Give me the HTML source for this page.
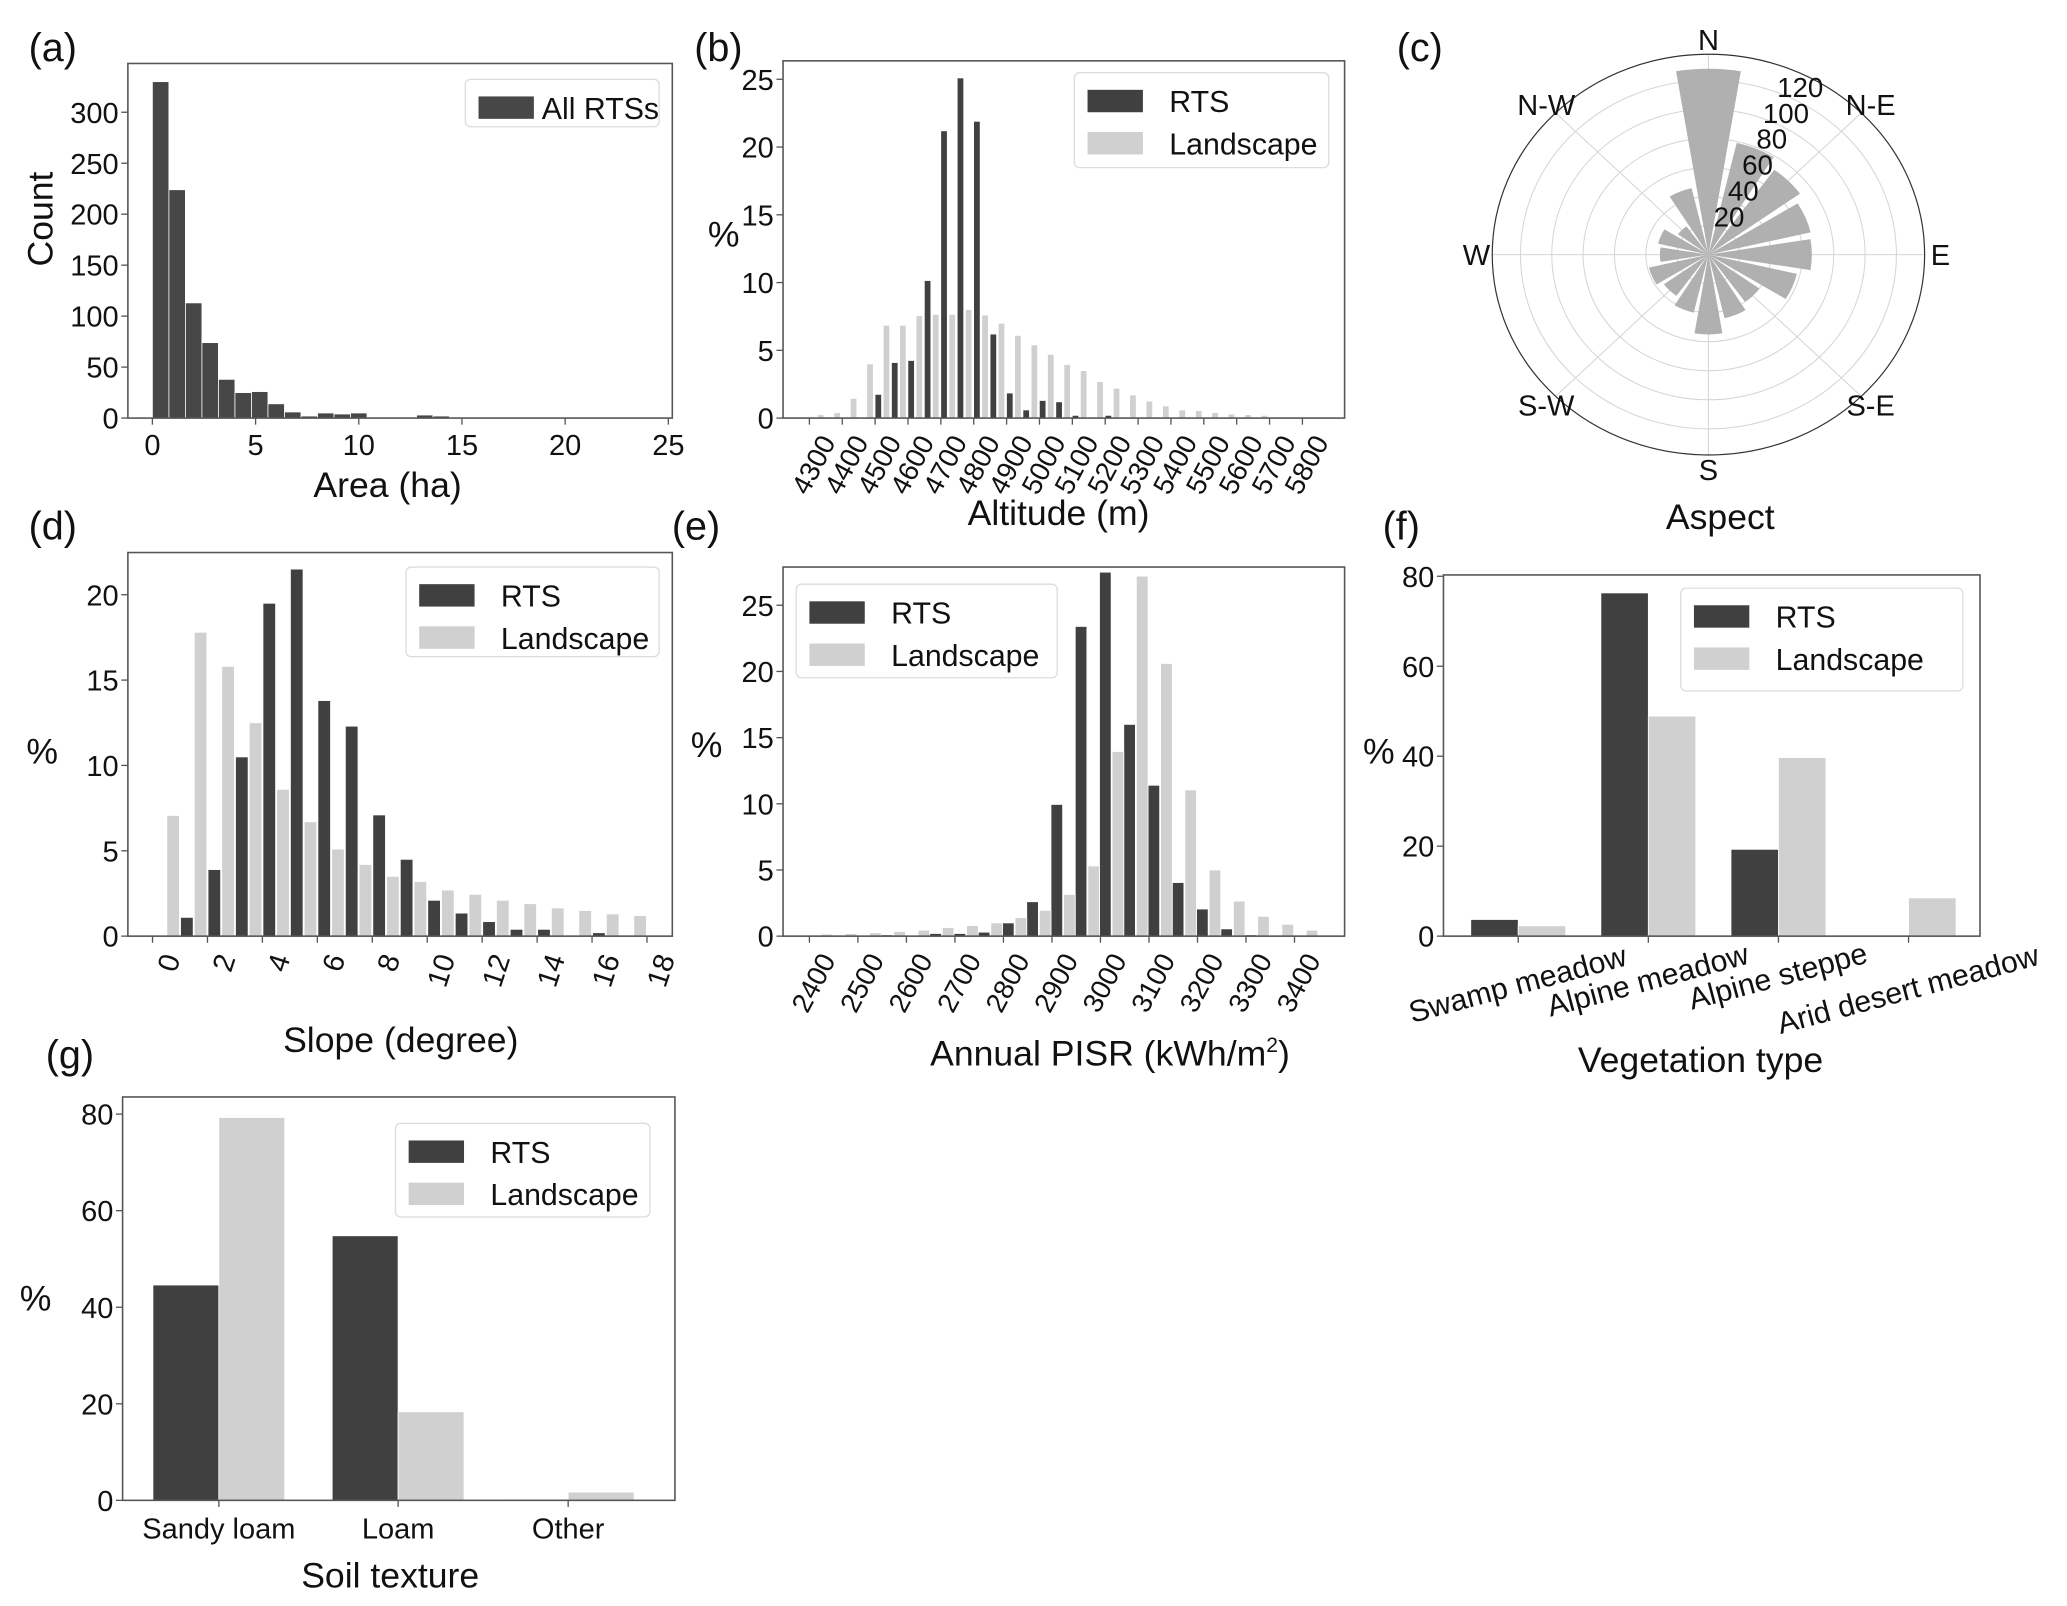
<!DOCTYPE html>
<html><head><meta charset="utf-8"><title>RTS distribution panels</title>
<style>
html,body{margin:0;padding:0;background:#fff;}
svg{display:block;font-family:"Liberation Sans",Arial,sans-serif;}
</style></head>
<body>
<svg id="fig" width="2067" height="1606" viewBox="0 0 1568 1218" xmlns="http://www.w3.org/2000/svg"></svg>
<script>
// ---------- data ----------
const areaBinWidth = 0.8;
const areaCounts = [330,224,113,74,38,25,26,14,6,2,5,4,5,0,1,1,3,2,1,1,0,0,0,0,0,0,0,0,0,1];
const areaTicks = [0,5,10,15,20,25];
const countTicks = [0,50,100,150,200,250,300];

const altStart = 4322, altStep = 50;
const altRTS = [0,0,0,0,1.75,4.1,4.25,10.15,21.2,25.1,21.9,6.2,1.85,0.6,1.3,1.2,0.2,0,0.2,0,0,0,0,0,0,0,0,0,0,0,0,0];
const altLand = [0.25,0.4,1.45,4.0,6.85,6.85,7.55,7.65,7.65,8.0,7.6,7.0,6.1,5.4,4.7,3.95,3.5,2.7,2.2,1.7,1.25,0.9,0.6,0.55,0.4,0.3,0.25,0.2,0,0,0,0];
const altTicks = [4300,4400,4500,4600,4700,4800,4900,5000,5100,5200,5300,5400,5500,5600,5700,5800];
const pctTicks25 = [0,5,10,15,20,25];

const aspectDirs = [0,22.5,45,67.5,90,112.5,135,157.5,180,202.5,225,247.5,270,292.5,315,337.5];
const aspectCounts = [128,79,72,67,66,58,40,45,55,41,35,39,31,33,24,47];
const aspectRings = [20,40,60,80,100,120];
const aspectLabels = ['N','N-E','E','S-E','S','S-W','W','N-W'];

const slopeBins = [1,2,3,4,5,6,7,8,9,10,11,12,13,14,15,16,17,18];
const slopeRTS = [1.1,3.9,10.5,19.5,21.5,13.8,12.3,7.1,4.5,2.1,1.35,0.85,0.4,0.4,0,0.2,0,0];
const slopeLand = [7.07,17.8,15.8,12.5,8.6,6.7,5.1,4.2,3.5,3.2,2.7,2.45,2.1,1.9,1.65,1.5,1.3,1.2];
const slopeTicks = [0,2,4,6,8,10,12,14,16,18];
const pctTicks20 = [0,5,10,15,20];

const pisrStart = 2423, pisrStep = 50;
const pisrRTS = [0,0,0,0.1,0,0.2,0.2,0.3,1.0,2.6,9.95,23.4,27.5,16.0,11.4,4.05,2.05,0.55,0.1,0,0];
const pisrLand = [0.15,0.2,0.25,0.35,0.45,0.65,0.8,1.0,1.4,1.95,3.15,5.3,13.95,27.2,20.6,11.05,5.0,2.65,1.5,0.9,0.45];
const pisrTicks = [2400,2500,2600,2700,2800,2900,3000,3100,3200,3300,3400];

const vegCats = ['Swamp meadow','Alpine meadow','Alpine steppe','Arid desert meadow'];
const vegRTS = [3.7,76.3,19.3,0.2];
const vegLand = [2.3,48.9,39.7,8.5];
const pctTicks80 = [0,20,40,60,80];

const soilCats = ['Sandy loam','Loam','Other'];
const soilRTS = [44.6,54.8,0.2];
const soilLand = [79.3,18.35,1.7];

// ---------- helpers ----------
const NS = 'http://www.w3.org/2000/svg';
const svg = document.getElementById('fig');
const DARK = '#404040', LIGHT = '#d0d0d0', AXC = '#555';
const TF = 22, AF = 27, LF = 23;
function el(tag, attrs, parent){
  const e = document.createElementNS(NS, tag);
  for (const k in attrs) e.setAttribute(k, attrs[k]);
  (parent || svg).appendChild(e);
  return e;
}
function lin(d0,d1,r0,r1){ return v => r0 + (v-d0)/(d1-d0)*(r1-r0); }
function group(name){
  const g = el('g', {});
  
  
  return g;
}
function txt(parent, x, y, s, size, anchor, name, extra){
  const t = el('text', Object.assign({x:x, y:y, 'font-size':size, 'text-anchor':anchor||'middle', fill:'#111'}, extra||{}), parent);
  t.textContent = s;
  
  
  return t;
}
function frame(g, x0, y0, x1, y1){
  const r = el('rect', {x:x0, y:y0, width:x1-x0, height:y1-y0, fill:'none', stroke:AXC, 'stroke-width':1.2}, g);
  
  
}
function yAxis(g, ticks, ys, x0){
  for (const v of ticks){
    const y = ys(v);
    const l = el('line', {x1:x0-5, x2:x0, y1:y, y2:y, stroke:AXC, 'stroke-width':1}, g);
    
    
    txt(g, x0-7, y+8, String(v), TF, 'end', 'y-tick-label');
  }
}
function bar(g, x, w, y0, y1, color, name){
  const r = el('rect', {x:x, y:Math.min(y0,y1), width:w, height:Math.abs(y1-y0), fill:color, stroke:'#fff', 'stroke-width':0.6}, g);
  
  
}
function legend(g, x, y, w, h, items, tx){
  const b = el('rect', {x:x, y:y, width:w, height:h, rx:4, fill:'#fff', stroke:'#ddd', 'stroke-width':1}, g);
  
  
  items.forEach((it, i) => {
    const yy = y + 10 + i*32;
    const p = el('rect', {x:x+10, y:yy+3, width:42, height:17, fill:it[1]}, g);
    
    
    txt(g, x+(tx||72), yy+20, it[0], LF, 'start', 'legend-label');
  });
}

// ---------- (a) ----------
(function(){
  const g = group('panel-a-area-histogram');
  const x0=97, x1=510, y0=48, y1=317;
  const xs = lin(0,25,115.6,507), ys = lin(0,300,317,85);
  areaCounts.forEach((v,k)=>{ if(v>0) bar(g, xs(k*areaBinWidth), xs(areaBinWidth)-xs(0), ys(0), ys(v), '#474747', 'area-bar'); });
  frame(g,x0,y0,x1,y1);
  yAxis(g, countTicks, ys, x0);
  for (const v of areaTicks){
    const x = xs(v);
    const l = el('line',{x1:x,x2:x,y1:y1,y2:y1+5,stroke:AXC},g);
    
    
    txt(g, x, y1+28, String(v), TF, 'middle', 'x-tick-label');
  }
  txt(g, 294, 377, 'Area (ha)', AF, 'middle', 'x-axis-title');
  txt(g, 40, 166, 'Count', AF, 'middle', 'y-axis-title', {transform:'rotate(-90 40 166)'});
  txt(g, 40, 46, '(a)', 30, 'middle', 'panel-label-a');
  legend(g, 353, 60, 147, 36, [['All RTSs','#474747']], 58);
})();

// ---------- (b) ----------
(function(){
  const g = group('panel-b-altitude');
  const x0=594, x1=1020, y0=46, y1=317;
  const xs = lin(4300,5800,614,988), ys = lin(0,25,317,60);
  const bw = xs(4320)-xs(4300);
  altRTS.forEach((v,k)=>{ const c = altStart + altStep*k; if(v>0) bar(g, xs(c-12.4)-bw/2, bw, ys(0), ys(v), DARK, 'rts-altitude-bar'); });
  altLand.forEach((v,k)=>{ const c = altStart + altStep*k; if(v>0) bar(g, xs(c+12.4)-bw/2, bw, ys(0), ys(v), LIGHT, 'landscape-altitude-bar'); });
  frame(g,x0,y0,x1,y1);
  yAxis(g, pctTicks25, ys, x0);
  for (const v of altTicks){
    const x = xs(v);
    const l = el('line',{x1:x,x2:x,y1:y1,y2:y1+5,stroke:AXC},g);
    
    
    txt(g, x+7, y1+11, String(v), 21, 'end', 'x-tick-label', {transform:'rotate(-62 '+(x+7)+' '+(y1+11)+')', 'dominant-baseline':'hanging'});
  }
  txt(g, 803, 398, 'Altitude (m)', AF, 'middle', 'x-axis-title');
  txt(g, 549, 187, '%', AF, 'middle', 'y-axis-title');
  txt(g, 545, 46, '(b)', 30, 'middle', 'panel-label-b');
  legend(g, 815, 55, 193, 72, [['RTS',DARK],['Landscape',LIGHT]]);
})();

// ---------- (c) ----------
(function(){
  const g = group('panel-c-aspect-rose');
  const cx=1296, cy=193, R=164, maxV=138, sy=152/164;
  const inner = el('g', {transform:'translate('+cx+' '+cy+') scale(1 '+sy+') translate('+(-cx)+' '+(-cy)+')'}, g);
  
  
  const rs = v => v/maxV*R;
  for (const v of aspectRings){
    const c = el('circle',{cx:cx,cy:cy,r:rs(v),fill:'none',stroke:'#d4d4d4','stroke-width':1,'vector-effect':'non-scaling-stroke'},inner);
    
    
  }
  for (let i=0;i<8;i++){
    const a = i*45*Math.PI/180;
    const l = el('line',{x1:cx,y1:cy,x2:cx+R*Math.sin(a),y2:cy-R*Math.cos(a),stroke:'#d4d4d4','stroke-width':1,'vector-effect':'non-scaling-stroke'},inner);
    
    
  }
  const half = 9.3*Math.PI/180;
  aspectDirs.forEach((d,i)=>{
    const a = d*Math.PI/180, r = rs(aspectCounts[i]);
    const p1x = cx + r*Math.sin(a-half), p1y = cy - r*Math.cos(a-half);
    const p2x = cx + r*Math.sin(a+half), p2y = cy - r*Math.cos(a+half);
    const p = el('path',{d:'M'+cx+' '+cy+' L'+p1x+' '+p1y+' A'+r+' '+r+' 0 0 1 '+p2x+' '+p2y+' Z',fill:'#b0b0b0'},inner);
    
    
  });
  const oc = el('circle',{cx:cx,cy:cy,r:R,fill:'none',stroke:'#333','stroke-width':1.2,'vector-effect':'non-scaling-stroke'},inner);
  
  
  const la = 27*Math.PI/180;
  for (const v of aspectRings){
    const r = rs(v+9);
    txt(g, cx + r*Math.sin(la), cy - r*Math.cos(la)*sy+7, String(v), 21, 'middle', 'radial-tick-label');
  }
  aspectLabels.forEach((s,i)=>{
    const a = i*45*Math.PI/180, r = R+ (i%2===0 ? 12 : 10);
    const x = cx + r*Math.sin(a), y = cy - r*Math.cos(a)*sy;
    txt(g, x, y+8, s, TF, 'middle', 'direction-label');
  });
  txt(g, 1305, 401, 'Aspect', AF, 'middle', 'x-axis-title');
  txt(g, 1077, 46, '(c)', 30, 'middle', 'panel-label-c');
})();

// ---------- (d) ----------
(function(){
  const g = group('panel-d-slope');
  const x0=97, x1=510, y0=419, y1=710;
  const xs = lin(0,18,115.7,490.8), ys = lin(0,20,710,451);
  const bw = xs(0.46)-xs(0);
  slopeBins.forEach((n,i)=>{
    if (slopeLand[i]>0) bar(g, xs(n-0.25)-bw/2, bw, ys(0), ys(slopeLand[i]), LIGHT, 'landscape-slope-bar');
    if (slopeRTS[i]>0) bar(g, xs(n+0.25)-bw/2, bw, ys(0), ys(slopeRTS[i]), DARK, 'rts-slope-bar');
  });
  frame(g,x0,y0,x1,y1);
  yAxis(g, pctTicks20, ys, x0);
  for (const v of slopeTicks){
    const x = xs(v);
    const l = el('line',{x1:x,x2:x,y1:y1,y2:y1+5,stroke:AXC},g);
    
    
    txt(g, x+7, y1+12, String(v), TF, 'end', 'x-tick-label', {transform:'rotate(-72 '+(x+7)+' '+(y1+12)+')', 'dominant-baseline':'hanging'});
  }
  txt(g, 304, 798, 'Slope (degree)', AF, 'middle', 'x-axis-title');
  txt(g, 32, 579, '%', AF, 'middle', 'y-axis-title');
  txt(g, 40, 409, '(d)', 30, 'middle', 'panel-label-d');
  legend(g, 308, 430, 192, 68, [['RTS',DARK],['Landscape',LIGHT]]);
})();

// ---------- (e) ----------
(function(){
  const g = group('panel-e-pisr');
  const x0=594, x1=1020, y0=430, y1=710;
  const xs = lin(2400,3400,614,982), ys = lin(0,25,710,459);
  const bw = xs(2424)-xs(2400);
  pisrRTS.forEach((v,k)=>{ const c = pisrStart + pisrStep*k; if(v>0) bar(g, xs(c-13)-bw/2, bw, ys(0), ys(v), DARK, 'rts-pisr-bar'); });
  pisrLand.forEach((v,k)=>{ const c = pisrStart + pisrStep*k; if(v>0) bar(g, xs(c+13)-bw/2, bw, ys(0), ys(v), LIGHT, 'landscape-pisr-bar'); });
  frame(g,x0,y0,x1,y1);
  yAxis(g, pctTicks25, ys, x0);
  for (const v of pisrTicks){
    const x = xs(v);
    const l = el('line',{x1:x,x2:x,y1:y1,y2:y1+5,stroke:AXC},g);
    
    
    txt(g, x+7, y1+11, String(v), 21, 'end', 'x-tick-label', {transform:'rotate(-62 '+(x+7)+' '+(y1+11)+')', 'dominant-baseline':'hanging'});
  }
  const t = txt(g, 842, 808, 'Annual PISR (kWh/m', AF, 'middle', 'x-axis-title');
  const s1 = el('tspan',{dy:-10,'font-size':16},t); s1.textContent='2';
  const s2 = el('tspan',{dy:10},t); s2.textContent=')';
  txt(g, 536, 574, '%', AF, 'middle', 'y-axis-title');
  txt(g, 528, 409, '(e)', 30, 'middle', 'panel-label-e');
  legend(g, 604, 443, 198, 71, [['RTS',DARK],['Landscape',LIGHT]]);
})();

// ---------- (f) ----------
(function(){
  const g = group('panel-f-vegetation');
  const x0=1095, x1=1502, y0=436, y1=710;
  const ys = lin(0,80,710,437);
  const xs = i => 1151.7 + i*98.7;
  vegCats.forEach((c,i)=>{
    bar(g, xs(i)-36, 36, ys(0), ys(vegRTS[i]), DARK, 'rts-vegetation-bar');
    bar(g, xs(i), 36, ys(0), ys(vegLand[i]), LIGHT, 'landscape-vegetation-bar');
  });
  frame(g,x0,y0,x1,y1);
  yAxis(g, pctTicks80, ys, x0);
  vegCats.forEach((c,i)=>{
    const x = xs(i);
    const l = el('line',{x1:x,x2:x,y1:y1,y2:y1+5,stroke:AXC},g);
    
    
    const yy = (i===3) ? 752 : 748 - i*3;
    txt(g, x, yy, c, 23, 'middle', 'x-tick-label', {transform:'rotate(-15 '+x+' '+yy+')', 'dominant-baseline':'middle'});
  });
  txt(g, 1290, 813, 'Vegetation type', AF, 'middle', 'x-axis-title');
  txt(g, 1046, 579, '%', AF, 'middle', 'y-axis-title');
  txt(g, 1063, 409, '(f)', 30, 'middle', 'panel-label-f');
  legend(g, 1275, 446, 214, 78, [['RTS',DARK],['Landscape',LIGHT]]);
})();

// ---------- (g) ----------
(function(){
  const g = group('panel-g-soil');
  const x0=93, x1=512, y0=832, y1=1138;
  const ys = lin(0,80,1138,845);
  const cx = [166, 302, 431];
  soilCats.forEach((c,i)=>{
    bar(g, cx[i]-50, 50, ys(0), ys(soilRTS[i]), DARK, 'rts-soil-bar');
    bar(g, cx[i], 50, ys(0), ys(soilLand[i]), LIGHT, 'landscape-soil-bar');
  });
  frame(g,x0,y0,x1,y1);
  yAxis(g, pctTicks80, ys, x0);
  soilCats.forEach((c,i)=>{
    const l = el('line',{x1:cx[i],x2:cx[i],y1:y1,y2:y1+5,stroke:AXC},g);
    
    
    txt(g, cx[i], y1+29, c, TF, 'middle', 'x-tick-label');
  });
  txt(g, 296, 1204, 'Soil texture', AF, 'middle', 'x-axis-title');
  txt(g, 27, 994, '%', AF, 'middle', 'y-axis-title');
  txt(g, 53, 810, '(g)', 30, 'middle', 'panel-label-g');
  legend(g, 300, 852, 193, 71, [['RTS',DARK],['Landscape',LIGHT]]);
})();
</script>
</body></html>
